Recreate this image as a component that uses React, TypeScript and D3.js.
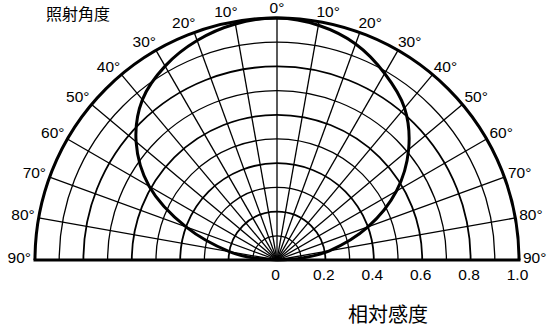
import * as d3 from "d3";
import React, { useEffect, useRef } from "react";

// angle grid / labels (degrees from the axis, negative = left)
const angleTicks = [-90, -80, -70, -60, -50, -40, -30, -20, -10, 0, 10, 20, 30, 40, 50, 60, 70, 80, 90];
// relative sensitivity rings
const gridRadii = [0.1, 0.2, 0.3, 0.4, 0.5, 0.6, 0.7, 0.8, 0.9, 1.0];
const radiusTicks = [0, 0.2, 0.4, 0.6, 0.8, 1.0];
const radiusLabels = ["0", "0.2", "0.4", "0.6", "0.8", "1.0"];

// measured pattern
const patternAngles = [-90, -85, -80, -70, -60, -50, -40, -30, -20, -10, 0, 10, 20, 30, 40, 50, 60, 70, 80, 85, 90];
const patternValues = [0, 0.1, 0.2, 0.4, 0.61, 0.76, 0.865, 0.925, 0.965, 0.99, 1.0, 0.985, 0.95, 0.89, 0.82, 0.71, 0.57, 0.4, 0.22, 0.11, 0];

const W = 547;
const H = 333;
const FONT = "'Liberation Sans', Arial, sans-serif";
const CJK = "'Noto Sans CJK JP', sans-serif";

export default function App() {
    const ref = useRef<SVGSVGElement>(null);

    useEffect(() => {
        const svg = d3.select(ref.current);
        svg.selectAll("*").remove();

        const cx = 277;
        const cy = 260;
        const R = 242;
        const r = d3.scaleLinear().domain([0, 1]).range([0, R]);
        const rad = (deg: number) => (deg * Math.PI) / 180;

        const g = svg.append("g").attr("transform", `translate(${cx},${cy})`);

        // rings
        const arc = d3
            .arc<number>()
            .innerRadius((d) => r(d))
            .outerRadius((d) => r(d))
            .startAngle(-Math.PI / 2)
            .endAngle(Math.PI / 2);
        g.selectAll(".ring")
            .data(gridRadii)
            .enter()
            .append("path")
            .attr("class", "ring")
            .attr("d", (d) => arc(d))
            .attr("fill", "none")
            .attr("stroke", "#000")
            .attr("stroke-width", (d, i) => (d === 1 ? 3 : i % 2 === 1 ? 1.8 : 1.3));

        // spokes
        g.selectAll(".spoke")
            .data(angleTicks.filter((a) => Math.abs(a) < 90))
            .enter()
            .append("line")
            .attr("class", "spoke")
            .attr("x1", 0)
            .attr("y1", 0)
            .attr("x2", (d) => r(1) * Math.sin(rad(d)))
            .attr("y2", (d) => -r(1) * Math.cos(rad(d)))
            .attr("stroke", "#000")
            .attr("stroke-width", 1.3);

        // baseline
        g.append("line")
            .attr("x1", -r(1) - 1.5)
            .attr("x2", r(1) + 1.5)
            .attr("y1", 0)
            .attr("y2", 0)
            .attr("stroke", "#000")
            .attr("stroke-width", 3);

        // pattern curve
        const pts = patternAngles.map((a, i) => [rad(a), r(patternValues[i])] as [number, number]);
        const line = d3
            .lineRadial<[number, number]>()
            .angle((d) => d[0])
            .radius((d) => d[1])
            .curve(d3.curveCatmullRom);
        g.append("path")
            .attr("d", line(pts))
            .attr("fill", "none")
            .attr("stroke", "#000")
            .attr("stroke-width", 3);

        // angle labels
        const lr = R + 8;
        g.selectAll(".alab")
            .data(angleTicks)
            .enter()
            .append("text")
            .attr("class", "alab")
            .attr("x", (d) => lr * Math.sin(rad(d)) + (d < 0 ? 4 : d > 0 ? -4 : 0))
            .attr("y", (d) => -lr * Math.cos(rad(d)) - 1)
            .attr("text-anchor", (d) => (d < 0 ? "end" : d > 0 ? "start" : "middle"))
            .attr("dominant-baseline", "middle")
            .style("font-family", FONT)
            .style("font-size", "15.5px")
            .attr("fill", "#000")
            .text((d) => `${Math.abs(d)}°`);

        // radius labels
        g.selectAll(".rlab")
            .data(radiusTicks)
            .enter()
            .append("text")
            .attr("class", "rlab")
            .attr("x", (d) => r(d) - 1.5)
            .attr("y", 16)
            .attr("text-anchor", "middle")
            .attr("dominant-baseline", "middle")
            .style("font-family", FONT)
            .style("font-size", "15.5px")
            .attr("fill", "#000")
            .text((d, i) => radiusLabels[i]);

        svg.append("text")
            .attr("x", 78)
            .attr("y", 16)
            .attr("text-anchor", "middle")
            .attr("dominant-baseline", "middle")
            .style("font-family", CJK)
            .style("font-size", "16px")
            .text("照射角度");

        svg.append("text")
            .attr("x", 388)
            .attr("y", 317)
            .attr("text-anchor", "middle")
            .attr("dominant-baseline", "middle")
            .style("font-family", CJK)
            .style("font-size", "20px")
            .text("相対感度");
    }, []);

    return (
        <div style={{ position: "absolute", left: 0, top: 0 }}>
            <svg ref={ref} width={W} height={H} style={{ display: "block", background: "#fff" }} />
        </div>
    );
}
